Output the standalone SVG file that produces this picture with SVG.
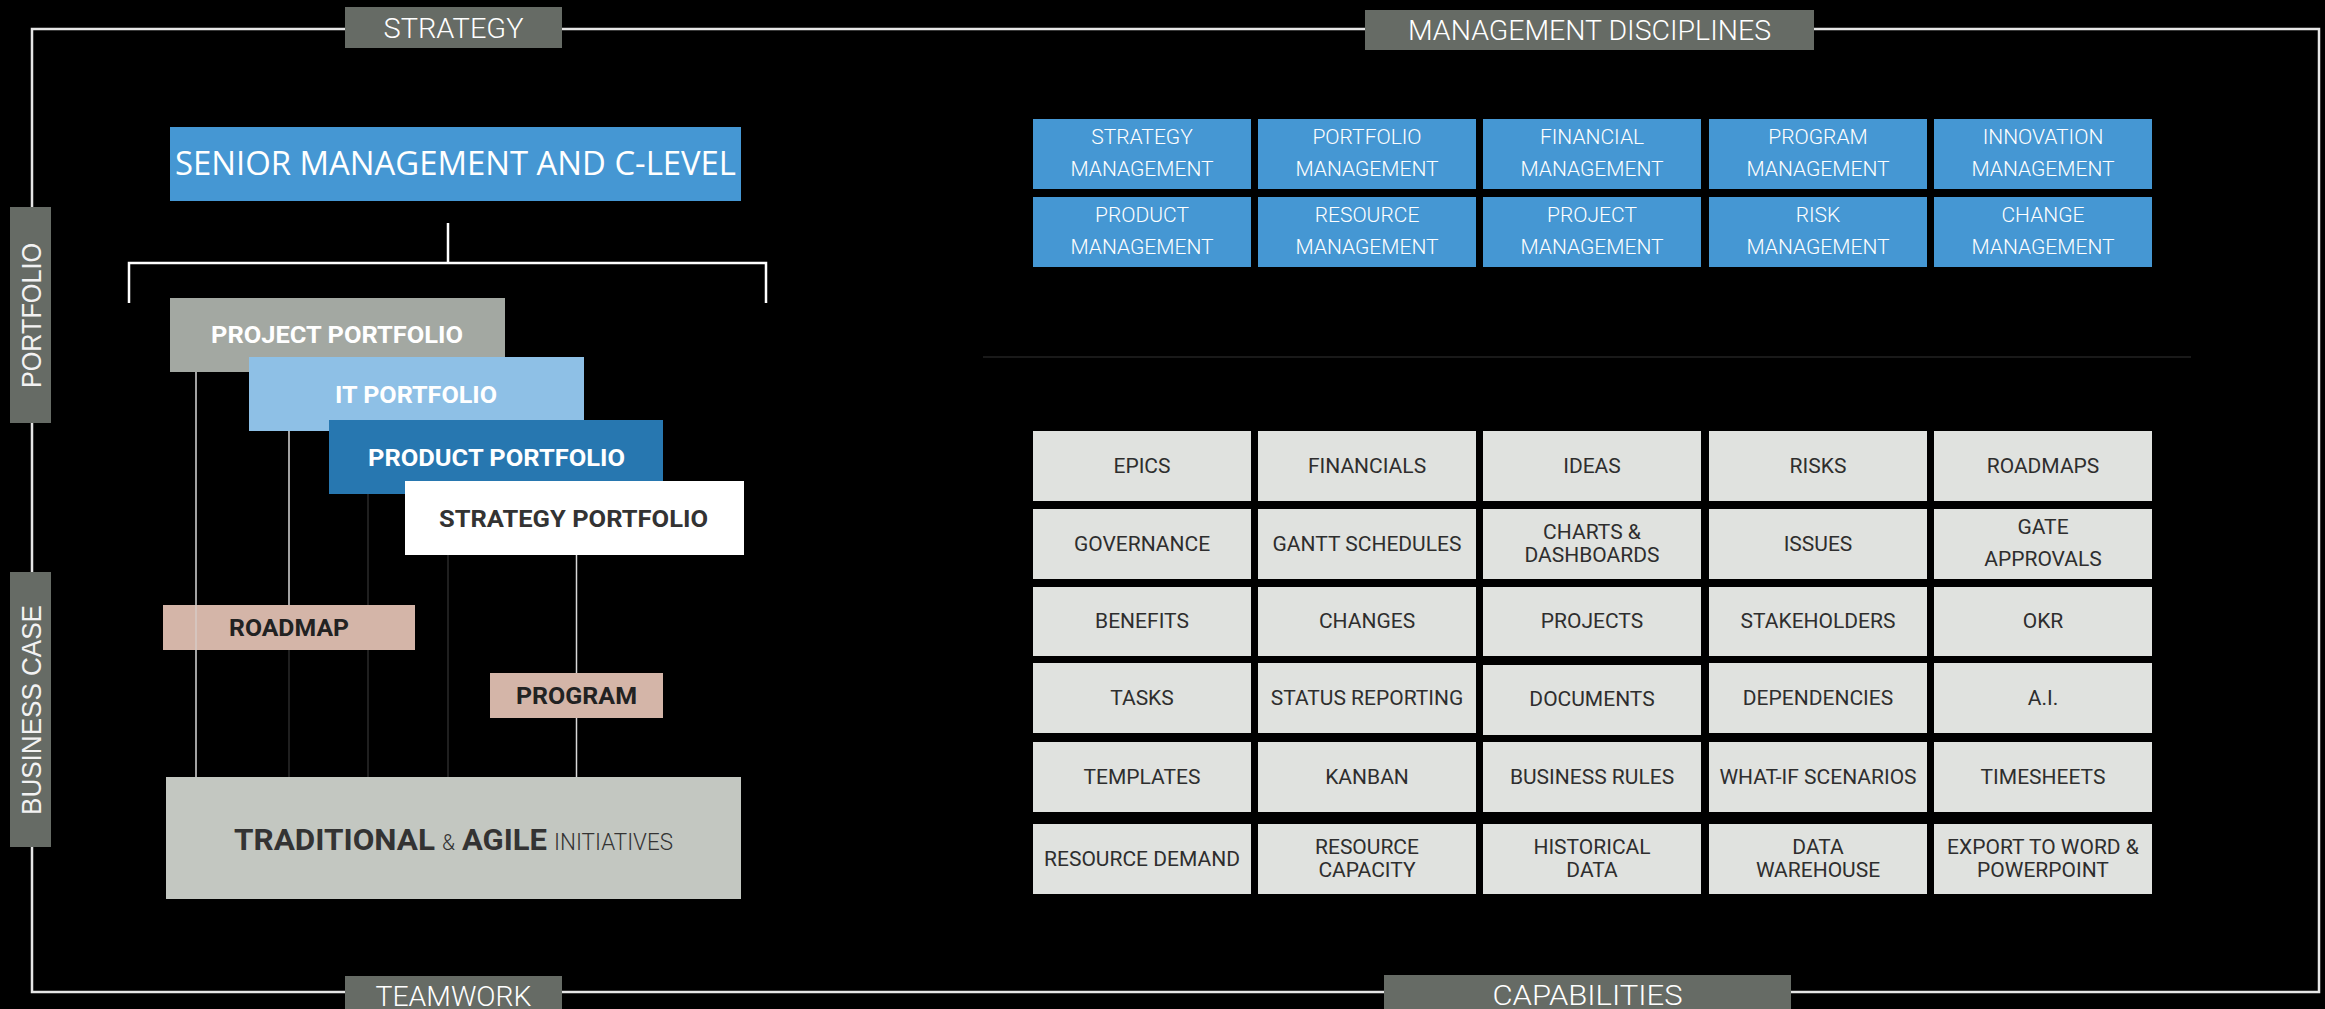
<svg xmlns="http://www.w3.org/2000/svg" width="2325" height="1009" viewBox="0 0 2325 1009">
<style>
.lbl{fill:#666b65}
.lbltx{font-family:Roboto,"Liberation Sans",sans-serif;font-weight:300;font-size:28px;fill:#ffffff;text-anchor:middle}
.vtx{font-family:"Liberation Sans",Arial,sans-serif;font-size:28px;fill:#f2f2f2;text-anchor:middle}
.disc{fill:#4597d3}
.disctx{font-family:Roboto,"Liberation Sans",sans-serif;font-weight:300;font-size:21px;fill:#ffffff;text-anchor:middle}
.cap{fill:#e0e2df}
.captx{font-family:Roboto,"Liberation Sans",sans-serif;font-weight:400;font-size:21px;fill:#2e2e2e;text-anchor:middle}
.bold{font-family:Roboto,"Liberation Sans",sans-serif;font-weight:700;font-size:23px;text-anchor:middle}
.wl{stroke:#d9d9d9;stroke-width:1.5;fill:none}
.dl{stroke:#2a2a2a;stroke-width:1.5;fill:none}
</style>
<rect x="0" y="0" width="2325" height="1009" fill="#000000"/>

<g id="frame">
<rect x="32" y="29" width="2287" height="963" fill="none" stroke="#e6e6e6" stroke-width="2.5"/>
</g>

<g id="label-strategy"><rect class="lbl" x="345" y="7" width="217" height="41"/><text class="lbltx" x="453.5" y="37.5" textLength="140" lengthAdjust="spacingAndGlyphs">STRATEGY</text></g>
<g id="label-management-disciplines"><rect class="lbl" x="1365" y="10" width="449" height="40"/><text class="lbltx" x="1589.5" y="40" textLength="363" lengthAdjust="spacingAndGlyphs">MANAGEMENT DISCIPLINES</text></g>
<g id="label-teamwork"><rect class="lbl" x="345" y="976" width="217" height="40"/><text class="lbltx" x="453.5" y="1006" textLength="156" lengthAdjust="spacingAndGlyphs">TEAMWORK</text></g>
<g id="label-capabilities"><rect class="lbl" x="1384" y="975" width="407" height="40"/><text class="lbltx" x="1587.5" y="1005" textLength="190" lengthAdjust="spacingAndGlyphs">CAPABILITIES</text></g>
<g id="label-portfolio"><rect class="lbl" x="10" y="207" width="41" height="216"/><text class="vtx" transform="translate(41,315.5) rotate(-90)" x="0" y="0" textLength="145" lengthAdjust="spacingAndGlyphs">PORTFOLIO</text></g>
<g id="label-business-case"><rect class="lbl" x="10" y="572" width="41" height="275"/><text class="vtx" transform="translate(41,710) rotate(-90)" x="0" y="0" textLength="210" lengthAdjust="spacingAndGlyphs">BUSINESS CASE</text></g>

<g id="senior-management"><rect x="170" y="127" width="571" height="74" fill="#4597d3"/><text x="455.5" y="175" font-family="'Open Sans','Liberation Sans',sans-serif" font-size="32" fill="#ffffff" text-anchor="middle" textLength="561" lengthAdjust="spacingAndGlyphs">SENIOR MANAGEMENT AND C-LEVEL</text></g>

<g id="project-portfolio"><rect x="170" y="298" width="335" height="74" fill="#a3a8a2"/><text class="bold" x="337" y="343" fill="#ffffff" textLength="252" lengthAdjust="spacingAndGlyphs">PROJECT PORTFOLIO</text></g>
<g id="it-portfolio"><rect x="249" y="357" width="335" height="74" fill="#8ec0e6"/><text class="bold" x="416" y="403" fill="#ffffff" textLength="162" lengthAdjust="spacingAndGlyphs">IT PORTFOLIO</text></g>
<g id="product-portfolio"><rect x="329" y="420" width="334" height="74" fill="#2777b0"/><text class="bold" x="496.5" y="466" fill="#ffffff" textLength="257" lengthAdjust="spacingAndGlyphs">PRODUCT PORTFOLIO</text></g>
<g id="strategy-portfolio"><rect x="405" y="481" width="339" height="74" fill="#ffffff"/><text class="bold" x="573.5" y="527" fill="#333333" textLength="269" lengthAdjust="spacingAndGlyphs">STRATEGY PORTFOLIO</text></g>
<g id="roadmap"><rect x="163" y="605" width="252" height="45" fill="#d4b5a8"/><text class="bold" x="289" y="636" fill="#222222" textLength="120" lengthAdjust="spacingAndGlyphs">ROADMAP</text></g>
<g id="program"><rect x="490" y="673" width="173" height="45" fill="#d4b5a8"/><text class="bold" x="576.5" y="704" fill="#222222" textLength="121" lengthAdjust="spacingAndGlyphs">PROGRAM</text></g>
<g id="initiatives"><rect x="166" y="777" width="575" height="122" fill="#c3c7c1"/>
<text x="234" y="850" font-family="Roboto,'Liberation Sans',sans-serif" font-weight="700" font-size="30" fill="#333333" textLength="201" lengthAdjust="spacingAndGlyphs">TRADITIONAL</text>
<text x="442" y="850" font-family="Roboto,'Liberation Sans',sans-serif" font-weight="300" font-size="22" fill="#333333" textLength="13" lengthAdjust="spacingAndGlyphs">&amp;</text>
<text x="462" y="850" font-family="Roboto,'Liberation Sans',sans-serif" font-weight="700" font-size="30" fill="#333333" textLength="85" lengthAdjust="spacingAndGlyphs">AGILE</text>
<text x="554" y="850" font-family="Roboto,'Liberation Sans',sans-serif" font-weight="300" font-size="23" fill="#333333" textLength="119" lengthAdjust="spacingAndGlyphs">INITIATIVES</text>
</g>

<g id="connectors">
<path d="M448,223 V263" stroke="#ffffff" stroke-width="2.5" fill="none"/>
<path d="M129,303 V263 H766 V303" stroke="#ffffff" stroke-width="2.5" fill="none"/>
<path class="wl" d="M196,372 V605"/>
<path class="wl" d="M196,605 V650" stroke-opacity="0.6"/>
<path class="wl" d="M196,650 V777"/>
<path class="wl" d="M289,431 V605"/>
<path class="dl" d="M289,650 V777"/>
<path class="dl" d="M368,494 V605"/>
<path class="dl" d="M368,650 V777"/>
<path class="dl" d="M448,555 V777"/>
<path class="wl" d="M576.5,555 V673"/>
<path class="wl" d="M576.5,718 V777"/>
<path d="M983,357 H2191" stroke="#222222" stroke-width="1.5"/>
</g>

<g id="disc-strategy"><rect class="disc" x="1033" y="119" width="218" height="70"/><text class="disctx" x="1142" y="144">STRATEGY</text><text class="disctx" x="1142" y="176">MANAGEMENT</text></g>
<g id="disc-portfolio"><rect class="disc" x="1258" y="119" width="218" height="70"/><text class="disctx" x="1367" y="144">PORTFOLIO</text><text class="disctx" x="1367" y="176">MANAGEMENT</text></g>
<g id="disc-financial"><rect class="disc" x="1483" y="119" width="218" height="70"/><text class="disctx" x="1592" y="144">FINANCIAL</text><text class="disctx" x="1592" y="176">MANAGEMENT</text></g>
<g id="disc-program"><rect class="disc" x="1709" y="119" width="218" height="70"/><text class="disctx" x="1818" y="144">PROGRAM</text><text class="disctx" x="1818" y="176">MANAGEMENT</text></g>
<g id="disc-innovation"><rect class="disc" x="1934" y="119" width="218" height="70"/><text class="disctx" x="2043" y="144">INNOVATION</text><text class="disctx" x="2043" y="176">MANAGEMENT</text></g>
<g id="disc-product"><rect class="disc" x="1033" y="197" width="218" height="70"/><text class="disctx" x="1142" y="222">PRODUCT</text><text class="disctx" x="1142" y="254">MANAGEMENT</text></g>
<g id="disc-resource"><rect class="disc" x="1258" y="197" width="218" height="70"/><text class="disctx" x="1367" y="222">RESOURCE</text><text class="disctx" x="1367" y="254">MANAGEMENT</text></g>
<g id="disc-project"><rect class="disc" x="1483" y="197" width="218" height="70"/><text class="disctx" x="1592" y="222">PROJECT</text><text class="disctx" x="1592" y="254">MANAGEMENT</text></g>
<g id="disc-risk"><rect class="disc" x="1709" y="197" width="218" height="70"/><text class="disctx" x="1818" y="222">RISK</text><text class="disctx" x="1818" y="254">MANAGEMENT</text></g>
<g id="disc-change"><rect class="disc" x="1934" y="197" width="218" height="70"/><text class="disctx" x="2043" y="222">CHANGE</text><text class="disctx" x="2043" y="254">MANAGEMENT</text></g>

<g id="cap-epics"><rect class="cap" x="1033" y="431" width="218" height="70"/><text class="captx" x="1142" y="473">EPICS</text></g>
<g id="cap-financials"><rect class="cap" x="1258" y="431" width="218" height="70"/><text class="captx" x="1367" y="473">FINANCIALS</text></g>
<g id="cap-ideas"><rect class="cap" x="1483" y="431" width="218" height="70"/><text class="captx" x="1592" y="473">IDEAS</text></g>
<g id="cap-risks"><rect class="cap" x="1709" y="431" width="218" height="70"/><text class="captx" x="1818" y="473">RISKS</text></g>
<g id="cap-roadmaps"><rect class="cap" x="1934" y="431" width="218" height="70"/><text class="captx" x="2043" y="473">ROADMAPS</text></g>

<g id="cap-governance"><rect class="cap" x="1033" y="509" width="218" height="70"/><text class="captx" x="1142" y="551">GOVERNANCE</text></g>
<g id="cap-gantt"><rect class="cap" x="1258" y="509" width="218" height="70"/><text class="captx" x="1367" y="551">GANTT SCHEDULES</text></g>
<g id="cap-charts"><rect class="cap" x="1483" y="509" width="218" height="70"/><text class="captx" x="1592" y="539">CHARTS &amp;</text><text class="captx" x="1592" y="562">DASHBOARDS</text></g>
<g id="cap-issues"><rect class="cap" x="1709" y="509" width="218" height="70"/><text class="captx" x="1818" y="551">ISSUES</text></g>
<g id="cap-gate"><rect class="cap" x="1934" y="509" width="218" height="70"/><text class="captx" x="2043" y="534">GATE</text><text class="captx" x="2043" y="566">APPROVALS</text></g>

<g id="cap-benefits"><rect class="cap" x="1033" y="587" width="218" height="69"/><text class="captx" x="1142" y="628">BENEFITS</text></g>
<g id="cap-changes"><rect class="cap" x="1258" y="587" width="218" height="69"/><text class="captx" x="1367" y="628">CHANGES</text></g>
<g id="cap-projects"><rect class="cap" x="1483" y="587" width="218" height="69"/><text class="captx" x="1592" y="628">PROJECTS</text></g>
<g id="cap-stakeholders"><rect class="cap" x="1709" y="587" width="218" height="69"/><text class="captx" x="1818" y="628">STAKEHOLDERS</text></g>
<g id="cap-okr"><rect class="cap" x="1934" y="587" width="218" height="69"/><text class="captx" x="2043" y="628">OKR</text></g>

<g id="cap-tasks"><rect class="cap" x="1033" y="663" width="218" height="70"/><text class="captx" x="1142" y="705">TASKS</text></g>
<g id="cap-status"><rect class="cap" x="1258" y="663" width="218" height="70"/><text class="captx" x="1367" y="705">STATUS REPORTING</text></g>
<g id="cap-documents"><rect class="cap" x="1483" y="665" width="218" height="70"/><text class="captx" x="1592" y="706">DOCUMENTS</text></g>
<g id="cap-dependencies"><rect class="cap" x="1709" y="663" width="218" height="70"/><text class="captx" x="1818" y="705">DEPENDENCIES</text></g>
<g id="cap-ai"><rect class="cap" x="1934" y="663" width="218" height="70"/><text class="captx" x="2043" y="705">A.I.</text></g>

<g id="cap-templates"><rect class="cap" x="1033" y="742" width="218" height="70"/><text class="captx" x="1142" y="784">TEMPLATES</text></g>
<g id="cap-kanban"><rect class="cap" x="1258" y="742" width="218" height="70"/><text class="captx" x="1367" y="784">KANBAN</text></g>
<g id="cap-business-rules"><rect class="cap" x="1483" y="742" width="218" height="70"/><text class="captx" x="1592" y="784">BUSINESS RULES</text></g>
<g id="cap-what-if"><rect class="cap" x="1709" y="742" width="218" height="70"/><text class="captx" x="1818" y="784">WHAT-IF SCENARIOS</text></g>
<g id="cap-timesheets"><rect class="cap" x="1934" y="742" width="218" height="70"/><text class="captx" x="2043" y="784">TIMESHEETS</text></g>

<g id="cap-resource-demand"><rect class="cap" x="1033" y="824" width="218" height="70"/><text class="captx" x="1142" y="866">RESOURCE DEMAND</text></g>
<g id="cap-resource-capacity"><rect class="cap" x="1258" y="824" width="218" height="70"/><text class="captx" x="1367" y="854">RESOURCE</text><text class="captx" x="1367" y="877">CAPACITY</text></g>
<g id="cap-historical"><rect class="cap" x="1483" y="824" width="218" height="70"/><text class="captx" x="1592" y="854">HISTORICAL</text><text class="captx" x="1592" y="877">DATA</text></g>
<g id="cap-warehouse"><rect class="cap" x="1709" y="824" width="218" height="70"/><text class="captx" x="1818" y="854">DATA</text><text class="captx" x="1818" y="877">WAREHOUSE</text></g>
<g id="cap-export"><rect class="cap" x="1934" y="824" width="218" height="70"/><text class="captx" x="2043" y="854">EXPORT TO WORD &amp;</text><text class="captx" x="2043" y="877">POWERPOINT</text></g>
</svg>
